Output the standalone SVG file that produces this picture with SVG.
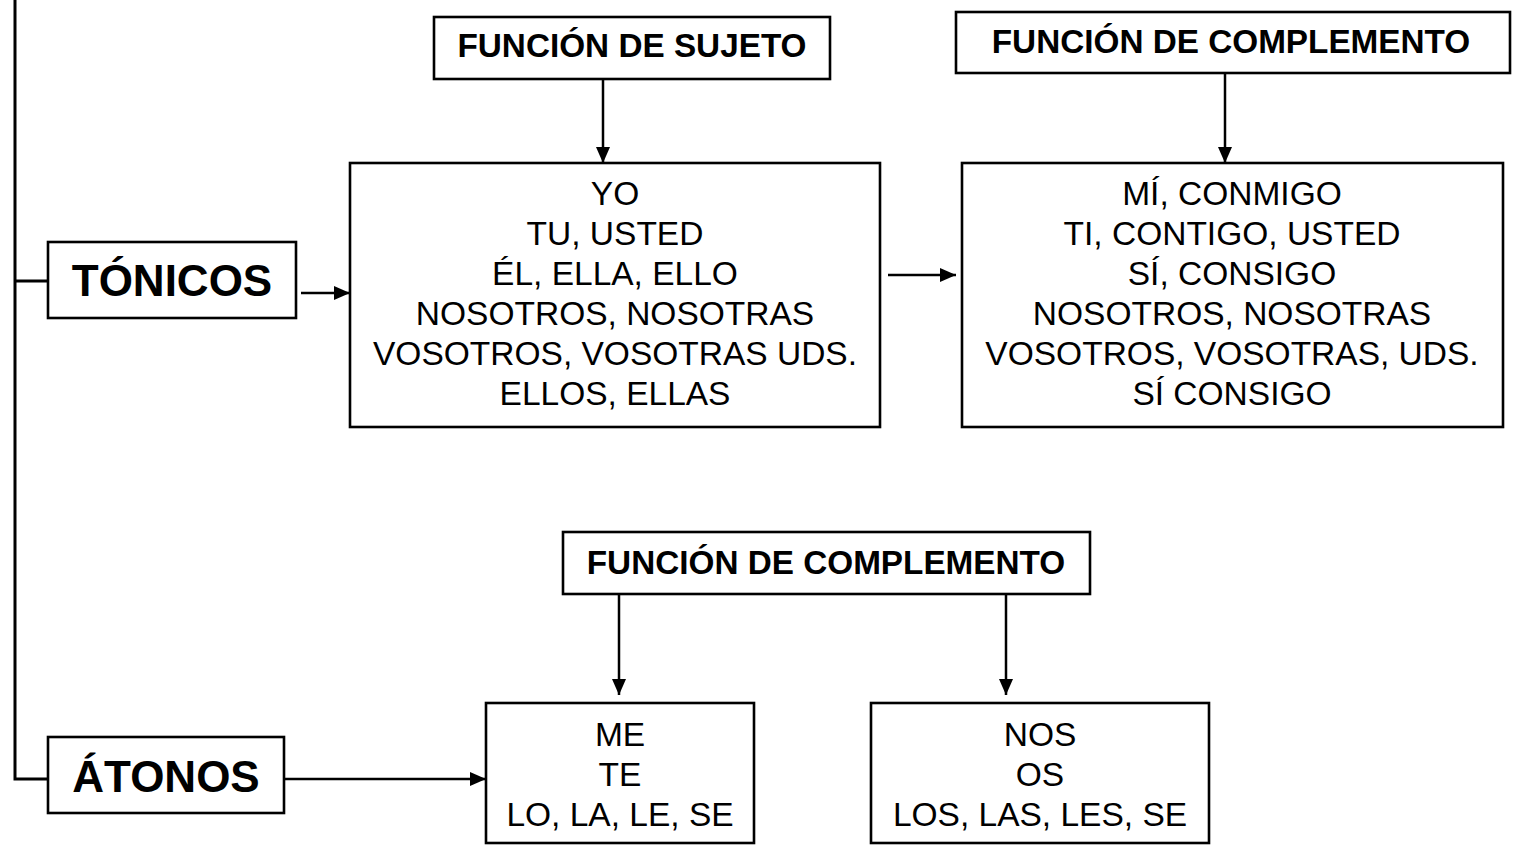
<svg xmlns="http://www.w3.org/2000/svg" width="1521" height="849" viewBox="0 0 1521 849">
<style>
.box{fill:#fff;stroke:#000;stroke-width:2.6}
.ln{fill:none;stroke:#000;stroke-width:2.5}
.trunk{fill:none;stroke:#000;stroke-width:3}
.b{font-family:"Liberation Sans",Arial,sans-serif;font-size:33.5px;text-anchor:middle;fill:#000}
.h{font-family:"Liberation Sans",Arial,sans-serif;font-size:33.3px;font-weight:bold;text-anchor:middle;fill:#000}
.big{font-family:"Liberation Sans",Arial,sans-serif;font-size:44px;font-weight:bold;text-anchor:middle;fill:#000}
</style>
<defs>
<marker id="arr" markerUnits="userSpaceOnUse" markerWidth="17" markerHeight="16" refX="16" refY="8" orient="auto">
<path d="M0,1 L16,8 L0,15 Z" fill="#000"/>
</marker>
</defs>
<g id="connectors">
<path class="trunk" d="M15,0 V779 H48"/>
<path class="trunk" d="M15,281 H48"/>
<path class="ln" d="M301,293 H350" marker-end="url(#arr)"/>
<path class="ln" d="M603,79 V163" marker-end="url(#arr)"/>
<path class="ln" d="M1225,73 V163" marker-end="url(#arr)"/>
<path class="ln" d="M888,275 H956" marker-end="url(#arr)"/>
<path class="ln" d="M619,594 V695" marker-end="url(#arr)"/>
<path class="ln" d="M1006,594 V695" marker-end="url(#arr)"/>
<path class="ln" d="M284,779 H486" marker-end="url(#arr)"/>
</g>
<g id="tonicos">
<rect class="box" x="48" y="242" width="248" height="76"/>
<text class="big" x="172" y="296">TÓNICOS</text>
</g>
<g id="atonos">
<rect class="box" x="48" y="737" width="236" height="76"/>
<text class="big" x="166" y="792">ÁTONOS</text>
</g>
<g id="sujeto">
<rect class="box" x="434" y="17" width="396" height="62"/>
<text class="h" x="632" y="57">FUNCIÓN DE SUJETO</text>
</g>
<g id="complemento-top">
<rect class="box" x="956" y="12" width="554" height="61"/>
<text class="h" x="1231" y="53">FUNCIÓN DE COMPLEMENTO</text>
</g>
<g id="complemento-bottom">
<rect class="box" x="563" y="532" width="527" height="62"/>
<text class="h" x="826" y="574">FUNCIÓN DE COMPLEMENTO</text>
</g>
<g id="sujeto-list">
<rect class="box" x="350" y="163" width="530" height="264"/>
<text class="b" x="615" y="205">YO</text>
<text class="b" x="615" y="245">TU, USTED</text>
<text class="b" x="615" y="285">ÉL, ELLA, ELLO</text>
<text class="b" x="615" y="325">NOSOTROS, NOSOTRAS</text>
<text class="b" x="615" y="365">VOSOTROS, VOSOTRAS UDS.</text>
<text class="b" x="615" y="405">ELLOS, ELLAS</text>
</g>
<g id="complemento-list">
<rect class="box" x="962" y="163" width="541" height="264"/>
<text class="b" x="1232" y="205">MÍ, CONMIGO</text>
<text class="b" x="1232" y="245">TI, CONTIGO, USTED</text>
<text class="b" x="1232" y="285">SÍ, CONSIGO</text>
<text class="b" x="1232" y="325">NOSOTROS, NOSOTRAS</text>
<text class="b" x="1232" y="365">VOSOTROS, VOSOTRAS, UDS.</text>
<text class="b" x="1232" y="405">SÍ CONSIGO</text>
</g>
<g id="singular">
<rect class="box" x="486" y="703" width="268" height="140"/>
<text class="b" x="620" y="746">ME</text>
<text class="b" x="620" y="786">TE</text>
<text class="b" x="620" y="826">LO, LA, LE, SE</text>
</g>
<g id="plural">
<rect class="box" x="871" y="703" width="338" height="140"/>
<text class="b" x="1040" y="746">NOS</text>
<text class="b" x="1040" y="786">OS</text>
<text class="b" x="1040" y="826">LOS, LAS, LES, SE</text>
</g>
</svg>
